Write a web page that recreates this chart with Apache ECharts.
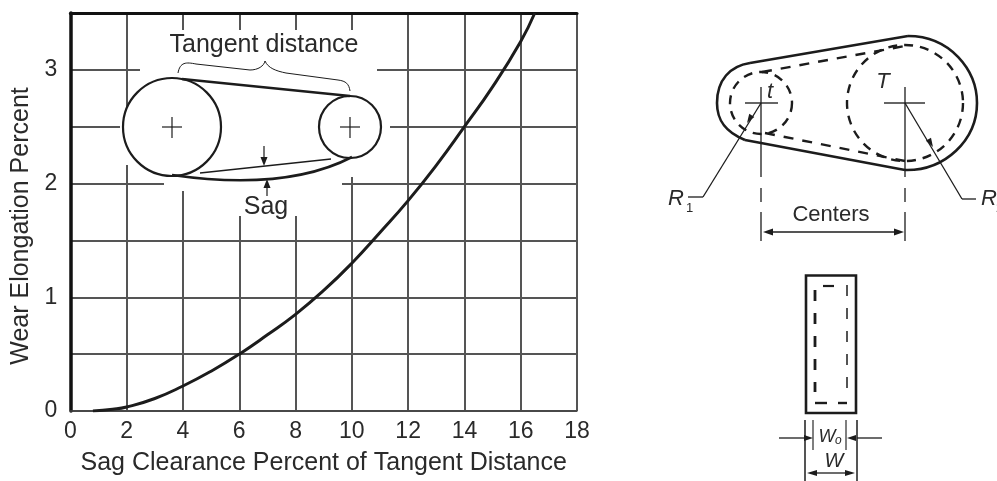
<!DOCTYPE html>
<html><head><meta charset="utf-8">
<style>html,body{margin:0;padding:0;background:#fff}#c{width:997px;height:481px;filter:blur(0.45px)}</style>
<script src="https://cdn.jsdelivr.net/npm/echarts@6/dist/echarts.min.js"></script>
</head><body><div id="c"></div>
<script>
const sagClearance=[0.8,1.5,2,3,4,5,6,7,8,9,10,11,12,13,14,15,16,16.5];
const wearElongation=[0,0.015,0.035,0.11,0.22,0.35,0.5,0.67,0.85,1.06,1.3,1.57,1.85,2.16,2.5,2.85,3.25,3.5];
const xTickStep=2, yTickStep=0.5;
const xTitle='Sag Clearance Percent of Tangent Distance';
const yTitle='Wear Elongation Percent';

const FONT='"Liberation Sans",Arial,sans-serif';
const INK='#1c1c1c', GRID='#555', TXT='#2a2a2a';
const g=[];
const Z=10;
function line(x1,y1,x2,y2,w,opt){opt=opt||{};g.push({type:'line',z:Z+1,shape:{x1,y1,x2,y2},style:{stroke:opt.stroke||INK,lineWidth:w,lineDash:opt.dash||null}});}
function curve(x1,y1,a,b,c,d,x2,y2,w){g.push({type:'bezierCurve',z:Z+1,shape:{x1,y1,cpx1:a,cpy1:b,cpx2:c,cpy2:d,x2,y2},style:{stroke:INK,fill:'none',lineWidth:w}});}
function path(segs,w){let p=segs[0];for(let i=1;i<segs.length;i++){const s=segs[i];
  if(s.length===2){line(p[0],p[1],s[0],s[1],w);p=s;}
  else{curve(p[0],p[1],s[0],s[1],s[2],s[3],s[4],s[5],w);p=[s[4],s[5]];}}}
function circle(cx,cy,r,w,opt){opt=opt||{};g.push({type:'circle',z:Z+1,shape:{cx,cy,r},style:{fill:opt.fill||'none',stroke:INK,lineWidth:w,lineDash:opt.dash||null}});}
function head(x,y,dx,dy,l,h){const px=-dy,py=dx;g.push({type:'polygon',z:Z+2,shape:{points:[[x,y],[x-dx*l+px*h,y-dy*l+py*h],[x-dx*l-px*h,y-dy*l-py*h]]},style:{fill:INK}});}
function text(t,x,y,size,opt){opt=opt||{};g.push({type:'text',z:Z+2,x,y,style:{text:t,font:(opt.italic?'italic ':'')+size+'px '+FONT,fill:TXT,align:opt.align||'center',verticalAlign:'middle'}});}

// white area behind the belt inset, interrupting the grid
g.push({type:'polygon',z:Z,shape:{points:[[140,30],[377,30],[377,80],[390,80],[390,177],[342,177],[342,216],[190,216],[190,191],[164,191],[164,165],[120,165],[120,110],[140,110]]},style:{fill:'#fff'}});

// inset: belt on two pulleys
circle(172,127,49,2.2,{fill:'#fff'});
circle(350,127,31,2.2,{fill:'#fff'});
line(162,127,182,127,1.2);line(172,117,172,138,1.2);
line(340,127,360,127,1.2);line(350,117,350,138,1.2);
line(182,79,350,96,2.6);
path([[172,175],[235,184,300,184,352,157]],2.6);
line(200,173,331,159,1.5);
line(264,146,264,162,1.2);head(264,166,0,1,9,3.5);
line(267,196,267,184,1.2);head(267,179,0,-1,9,3.5);
path([[178,73],[180,62,186,62,196,64],[250,70],[258,70,264,66,265,61],[268,68,276,71,286,73],[338,80],[346,81,349,84,350,91]],1);
text('Tangent distance',264,45,25);
text('Sag',266,207,25);

// right: belt with pitch line
path([[750,63],[908,36],[950,36,977,70,977,103],[977,140,945,171,905,170],[745,140],[725,132,717,120,717,103],[717,80,730,66,750,63]],2.6);
circle(761,103,31,2.4,{dash:[9,7]});
circle(905,103,58,2.4,{dash:[9,7]});
line(762,72,905,46,2.4,{dash:[10,9]});
line(765,133,905,161,2.4,{dash:[10,9]});
line(745,103,778,103,1.8,{stroke:'#666'});
line(884,103,925,103,1.8,{stroke:'#666'});
line(761,87,761,177,1.3);line(761,188,761,202,1.3);line(761,212,761,241,1.3);
line(905,87,905,177,1.3);line(905,188,905,202,1.3);line(905,212,905,241,1.3);
line(761,103,703,197,1.3);line(703,197,688,197,1.3);
line(905,103,962,199,1.3);line(962,199,976,199,1.3);
head(747,123,-0.53,0.85,9,3);head(933,147,0.51,0.86,9,3);
line(772,232,895,232,1.5);head(763,232,-1,0,10,3.5);head(904,232,1,0,10,3.5);
text('Centers',831,215,22);
text('t',770,92,22,{italic:true});
text('T',883,82,22,{italic:true});
text('R',668,199,22,{italic:true,align:'left'});
text('1',686,208,13,{align:'left'});
text('R',981,199,22,{italic:true,align:'left'});
text('2',996,208,13,{align:'left'});

// right: belt cross-section
g.push({type:'rect',z:Z+1,shape:{x:806,y:275.5,width:50,height:137.5},style:{fill:'#fff',stroke:INK,lineWidth:2.6}});
line(815,290,815,392,2.8,{dash:[11,12]});
line(847,285,847,389,1.5,{dash:[11,12]});
line(823,286,834,286,2.2);
line(815,403,827,403,2.4);line(838,403,847,403,2.4);
line(805,420,805,481,1.5);line(857,420,857,481,1.5);
line(813,420,813,450,1.5,{stroke:'#555'});line(846,420,846,450,1.5,{stroke:'#555'});
line(779,438,805,438,1.3);head(813,438,1,0,9,3);
line(857,438,882,438,1.3);head(847,438,-1,0,9,3);
line(815,473,847,473,1.3);head(807,473,-1,0,10,3);head(855,473,1,0,10,3);
text('W',827,437,18,{italic:true});
text('o',835,441,12,{italic:true,align:'left'});
text('W',834,461,20,{italic:true});

const axisLabel={color:TXT,fontFamily:FONT,fontSize:23};
const chart=echarts.init(document.getElementById('c'),null,{renderer:'canvas'});
chart.setOption({
  animation:false,
  backgroundColor:'#fff',
  grid:{left:70.4,right:420,top:13,bottom:70,containLabel:false},
  xAxis:[{type:'value',min:0,max:18,interval:xTickStep,position:'bottom',name:xTitle,nameLocation:'middle',nameGap:40,
    nameTextStyle:{color:TXT,fontFamily:FONT,fontSize:25},
    axisLine:{show:true,lineStyle:{color:'#444',width:1.5}},axisTick:{show:false},
    axisLabel:Object.assign({margin:9},axisLabel),
    splitLine:{show:true,lineStyle:{color:GRID,width:2}}},
   {type:'value',min:0,max:18,interval:xTickStep,position:'top',
    axisLine:{show:true,lineStyle:{color:'#111',width:3}},axisTick:{show:false},axisLabel:{show:false},splitLine:{show:false}}],
  yAxis:{type:'value',min:0,max:3.5,interval:yTickStep,offset:2.2,name:yTitle,nameLocation:'middle',nameGap:35,
    nameTextStyle:{color:TXT,fontFamily:FONT,fontSize:25,padding:[0,28,0,0]},
    axisLine:{show:true,lineStyle:{color:'#111',width:3.5}},axisTick:{show:false},
    axisLabel:Object.assign({margin:11,formatter:v=>Number.isInteger(v)?String(v):''},axisLabel),
    splitLine:{show:true,lineStyle:{color:GRID,width:1.9}}},
  series:[{type:'line',xAxisIndex:0,data:sagClearance.map((x,i)=>[x,wearElongation[i]]),smooth:0.5,symbol:'none',
    lineStyle:{color:INK,width:3},clip:true,z:5}],
  graphic:{elements:g}
});
</script></body></html>
